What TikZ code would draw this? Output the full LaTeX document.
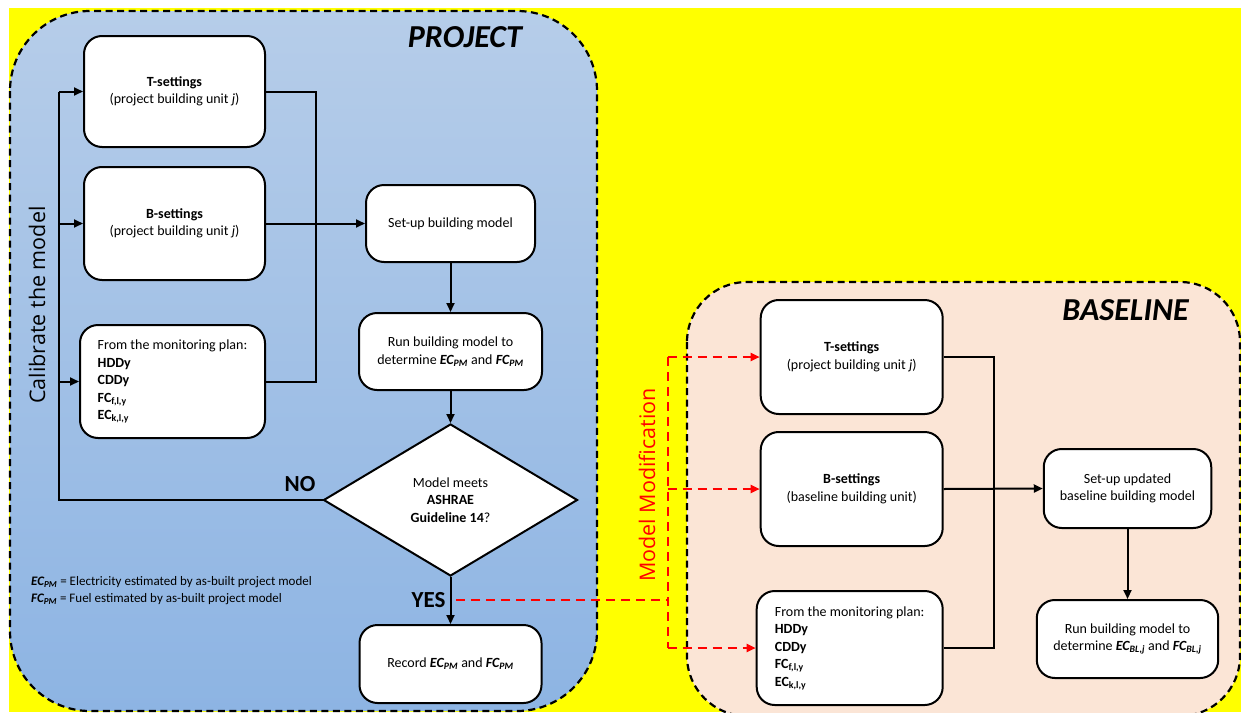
\documentclass[tikz,border=0pt]{standalone}
\usepackage{fontspec}
\setmainfont{Carlito}
\newfontfamily\sidefont{Open Sans}
\usetikzlibrary{arrows.meta,shapes.geometric}
\definecolor{projtop}{RGB}{182,205,233}
\definecolor{projbot}{RGB}{141,180,227}
\definecolor{basefill}{RGB}{251,229,214}
\definecolor{yel}{RGB}{255,255,0}
\newcommand{\bi}[2]{\textbf{\textit{#1\textsubscript{#2}}}}
\begin{document}
\begin{tikzpicture}[x=1pt,y=-1pt,
  wbox/.style={draw=black,line width=2pt,fill=white,rounded corners=18pt,align=center,inner sep=0pt,font=\fontsize{14}{17.5}\selectfont},
  dbox/.style={draw=black,line width=2pt,fill=white,diamond,align=center,inner sep=0pt,font=\fontsize{14}{17.5}\selectfont},
  conn/.style={line width=2pt,black},
  arr/.style={conn,-{Triangle[length=9pt,width=8pt]}},
  rconn/.style={line width=2pt,red,dash pattern=on 9pt off 6pt},
  rarr/.style={rconn,-{Triangle[length=9pt,width=8pt]}},
  panel/.style={draw=black,line width=2.2pt,dash pattern=on 7pt off 4.5pt},
  side/.style={rotate=90,font=\sidefont\fontsize{21.5}{24}\selectfont},
  ptitle/.style={font=\bfseries\itshape\fontsize{32}{36}\selectfont},
  yn/.style={font=\bfseries\fontsize{23}{26}\selectfont}
]
\useasboundingbox (0,0) rectangle (1241,712);
\clip (0,0) rectangle (1241,712);
\fill[white] (0,0) rectangle (1241,712);
\fill[yel] (9,7.5) rectangle (1241,712);

% panels
\path[panel,top color=projtop,bottom color=projbot,rounded corners=80pt] (10,11) rectangle (597,711);
\path[panel,fill=basefill,rounded corners=60pt] (687,282) rectangle (1240,716);

\node[ptitle] (projlab) at (465,37.5) {PROJECT};
\node[ptitle] (baselab) at (1125.5,310.5) {BASELINE};

% project boxes
\node[wbox,minimum width=181pt,minimum height=111pt] (pT) at (174.5,91.5) {\textbf{T-settings}\\(project building unit \textit{j})};
\node[wbox,minimum width=181pt,minimum height=113pt] (pB) at (174.5,223.5) {\textbf{B-settings}\\(project building unit \textit{j})};
\node[wbox,minimum width=185pt,minimum height=113pt,align=left] (pM) at (172.5,381.5) {From the monitoring plan:\\\textbf{HDDy}\\\textbf{CDDy}\\\textbf{FC\textsubscript{f,l,y}}\\\textbf{EC\textsubscript{k,l,y}}};
\node[wbox,minimum width=169pt,minimum height=77pt] (pS) at (450.5,223.5) {Set-up building model};
\node[wbox,minimum width=183pt,minimum height=77pt] (pR) at (450.5,351.5) {Run building model to\\determine \bi{EC}{PM} and \bi{FC}{PM}};
\node[dbox,minimum width=254pt,minimum height=152pt] (dm) at (450.5,500) {Model meets\\\textbf{ASHRAE}\\\textbf{Guideline 14}?};
\node[wbox,minimum width=182pt,minimum height=78pt] (pRec) at (450.5,664) {Record \bi{EC}{PM} and \bi{FC}{PM}};

\node[anchor=west,align=left,inner sep=0pt,font=\fontsize{13}{17}\selectfont] (leg) at (31,590.5) {\bi{EC}{PM} = Electricity estimated by as-built project model\\\bi{FC}{PM} = Fuel estimated by as-built project model};

\node[side] (cal) at (37,305) {Calibrate the model};
\node[yn] (no) at (300,484.5) {NO};
\node[yn] (yes) at (428.5,600.5) {YES};

% project connectors
\coordinate (cl) at (59,0);
\coordinate (cr) at (315.5,0);
\draw[conn] (dm.west) -- (dm.west -| cl) -- (pT.west -| cl);
\draw[arr] (pT.west -| cl) -- (pT.west);
\draw[arr] (pB.west -| cl) -- (pB.west);
\draw[arr] (pM.west -| cl) -- (pM.west);
\draw[conn] (pT.east) -- (pT.east -| cr) -- (pM.east -| cr) -- (pM.east);
\draw[arr] (pB.east) -- (pS.west);
\draw[arr] (pS.south) -- (pR.north);
\draw[arr] (pR.south) -- (dm.north);
\draw[arr] (dm.south) -- (pRec.north);

% baseline boxes
\node[wbox,minimum width=182pt,minimum height=114pt] (bT) at (851.7,357) {\textbf{T-settings}\\(project building unit \textit{j})};
\node[wbox,minimum width=182pt,minimum height=114pt] (bB) at (851.7,489) {\textbf{B-settings}\\(baseline building unit)};
\node[wbox,minimum width=186pt,minimum height=114pt,align=left] (bM) at (849.7,648) {From the monitoring plan:\\\textbf{HDDy}\\\textbf{CDDy}\\\textbf{FC\textsubscript{f,l,y}}\\\textbf{EC\textsubscript{k,l,y}}};
\node[wbox,minimum width=167.5pt,minimum height=79pt] (bS) at (1127.5,488.5) {Set-up updated\\baseline building model};
\node[wbox,minimum width=181.4pt,minimum height=78pt] (bR) at (1127.5,639) {Run building model to\\determine \bi{EC}{BL,j} and \bi{FC}{BL,j}};

\coordinate (bcr) at (993.5,0);
\draw[conn] (bT.east) -- (bT.east -| bcr) -- (bM.east -| bcr) -- (bM.east);
\draw[arr] (bB.east) -- (bS.west);
\draw[arr] (bS.south) -- (bR.north);

% model modification
\coordinate (ys) at (456,600);
\coordinate (rv) at (667.5,600);
\draw[rconn] (ys) -- (rv);
\draw[rconn] (bT.west -| rv) -- (bM.west -| rv);
\draw[rarr] (bT.west -| rv) -- (bT.west);
\draw[rarr] (bB.west -| rv) -- (bB.west);
\draw[rarr] (bM.west -| rv) -- (bM.west);
\node[side,text=red] (mm) at (647,485) {Model Modification};
\end{tikzpicture}
\end{document}
